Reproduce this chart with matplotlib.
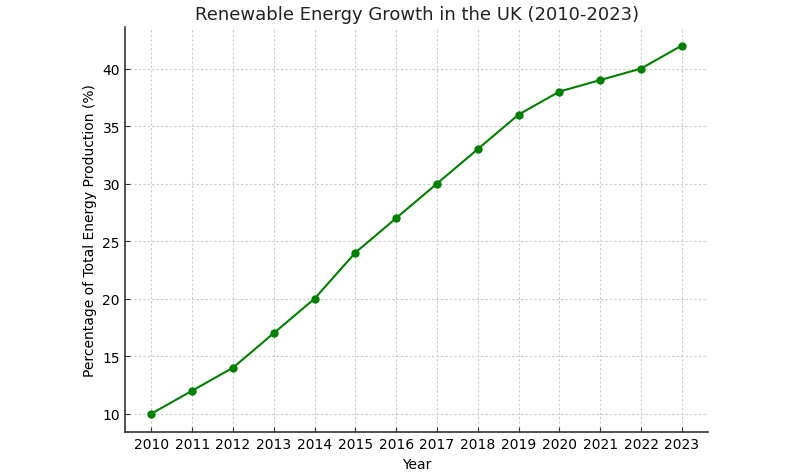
import matplotlib
matplotlib.use("Agg")
import matplotlib.pyplot as plt

# Share of renewables in UK energy production
years = [2010, 2011, 2012, 2013, 2014, 2015, 2016, 2017, 2018, 2019, 2020, 2021, 2022, 2023]
percent = [10, 12, 14, 17, 20, 24, 27, 30, 33, 36, 38, 39, 40, 42]

fig = plt.figure(figsize=(7.95, 4.77), dpi=100)
ax = fig.add_axes([0.157, 0.092, 0.734, 0.849])

ax.plot(years, percent, color="green", marker="o", markersize=5, linewidth=1.5)

ax.set_title("Renewable Energy Growth in the UK (2010-2023)", fontsize=13, color="#222222")
ax.set_xlabel("Year", fontsize=10)
ax.set_ylabel("Percentage of Total Energy Production (%)", fontsize=10)
ax.set_xticks(years)

ax.grid(True, linestyle=(0, (2, 2)), color="#cccccc", linewidth=0.8)
ax.tick_params(direction="in", labelsize=10, color="#333333")
for side in ["top", "right"]:
    ax.spines[side].set_visible(False)
for side in ["left", "bottom"]:
    ax.spines[side].set_color("#333333")
    ax.spines[side].set_linewidth(1.2)

plt.savefig("out.png", dpi=100)
